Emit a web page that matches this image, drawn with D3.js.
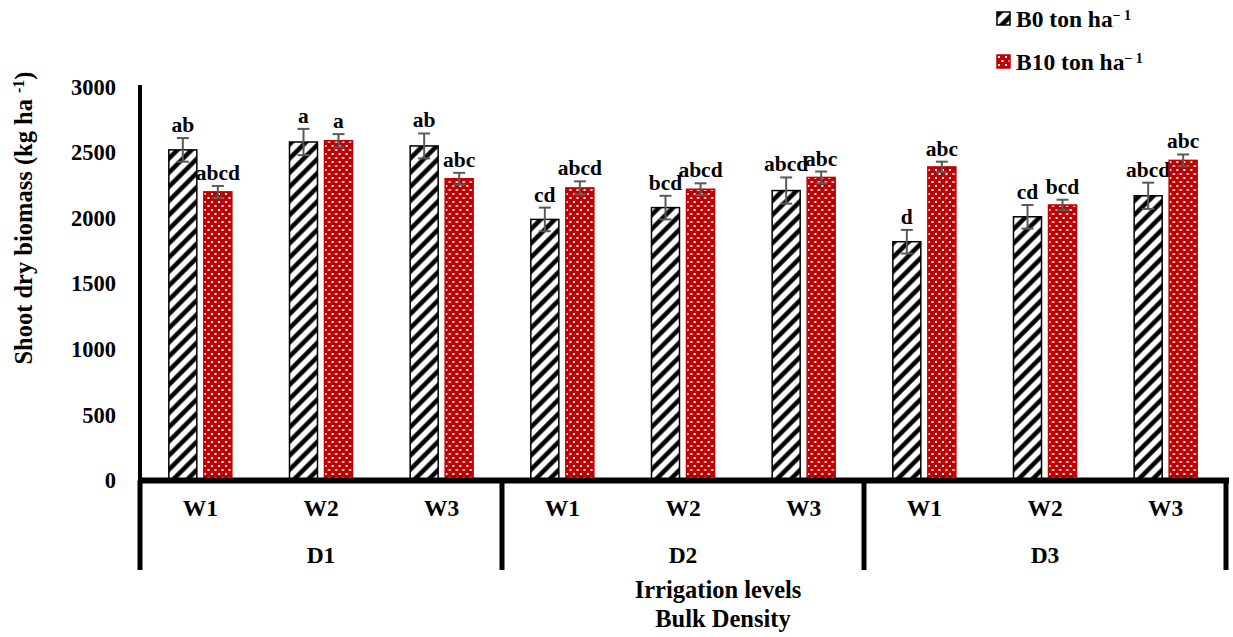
<!DOCTYPE html>
<html>
<head>
<meta charset="utf-8">
<script src="https://cdn.jsdelivr.net/npm/d3@7"></script>
<style>
  body { margin: 0; background: #fff; }
  text { font-family: "Liberation Serif", "Times New Roman", serif; font-weight: bold; fill: #000; }
</style>
</head>
<body>
<script>
// data
const groups = ["D1", "D2", "D3"];
const levels = ["W1", "W2", "W3"];
const series = ["B0", "B10"];
const b0Values = [2520, 2580, 2550, 1990, 2080, 2210, 1820, 2010, 2170];
const b10Values = [2200, 2590, 2300, 2230, 2220, 2310, 2390, 2100, 2440];
const b0Errors = [90, 100, 95, 90, 90, 100, 90, 90, 100];
const b10Errors = [45, 50, 45, 50, 45, 45, 40, 40, 45];
const b0Letters = ["ab", "a", "ab", "cd", "bcd", "abcd", "d", "cd", "abcd"];
const b10Letters = ["abcd", "a", "abc", "abcd", "abcd", "abc", "abc", "bcd", "abc"];
const yTicks = [0, 500, 1000, 1500, 2000, 2500, 3000];

function main(){
    const width = 1233, height = 637;
    const left = 140, right = 1226, top = 86.9, bottom = 480.5;

    const svg = d3.select("body").append("svg")
        .attr("width", width)
        .attr("height", height);

    const defs = svg.append("defs");
    const hatch = defs.append("pattern")
        .attr("id", "hatch")
        .attr("patternUnits", "userSpaceOnUse")
        .attr("width", 10).attr("height", 10)
        .attr("patternTransform", "rotate(45)");
    hatch.append("rect").attr("width", 10).attr("height", 10).attr("fill", "#fff");
    hatch.append("line")
        .attr("x1", 2.5).attr("y1", 0).attr("x2", 2.5).attr("y2", 10)
        .attr("stroke", "#000").attr("stroke-width", 4.5);

    const dots = defs.append("pattern")
        .attr("id", "dots")
        .attr("patternUnits", "userSpaceOnUse")
        .attr("width", 7).attr("height", 8);
    dots.append("rect").attr("width", 7).attr("height", 8).attr("fill", "#c00000");
    dots.append("rect").attr("x", 1).attr("y", 1).attr("width", 2).attr("height", 2).attr("fill", "#fff");
    dots.append("rect").attr("x", 4.5).attr("y", 5).attr("width", 2).attr("height", 2).attr("fill", "#fff");

    // one row per W level within each D group
    const rows = [];
    groups.forEach(function(g, gi){
        levels.forEach(function(l, li){
            const i = gi * levels.length + li;
            rows.push({key: g + l, group: g, level: l,
                B0: {v: b0Values[i], e: b0Errors[i], t: b0Letters[i]},
                B10: {v: b10Values[i], e: b10Errors[i], t: b10Letters[i]}});
        });
    });

    const x0 = d3.scaleBand()
        .domain(rows.map(d => d.key))
        .range([left, right]);
    const cw = x0.bandwidth();
    const x1 = d3.scaleBand()
        .domain(series)
        .range([cw / 2 - 31.5, cw / 2 + 31.5])
        .paddingInner(0.2);
    const yScale = d3.scaleLinear()
        .domain([0, 3000])
        .range([bottom, top]);

    const fills = {B0: "url(#hatch)", B10: "url(#dots)"};
    const strokes = {B0: "#000", B10: "#c00000"};

    // y axis
    const yAxis = svg.append("g")
        .attr("transform", "translate(" + left + ",0)")
        .call(d3.axisLeft(yScale).tickValues(yTicks).tickSize(0).tickPadding(24).tickFormat(d3.format("d")));
    yAxis.select(".domain").remove();
    yAxis.selectAll("text")
        .style("font-family", "Liberation Serif").style("font-weight", "bold")
        .style("font-size", "22.5px").attr("fill", "#000");
    svg.append("line")
        .attr("x1", left).attr("x2", left)
        .attr("y1", top - 2).attr("y2", bottom)
        .attr("stroke", "#000").attr("stroke-width", 4);

    // bars
    const cell = svg.selectAll(".cell")
        .data(rows)
        .enter().append("g")
        .attr("class", "cell")
        .attr("transform", d => "translate(" + x0(d.key) + ",0)");

    const bar = cell.selectAll(".bar")
        .data(d => series.map(s => ({s: s, v: d[s].v, e: d[s].e, t: d[s].t})))
        .enter().append("g")
        .attr("class", "bar");

    bar.append("rect")
        .attr("x", d => x1(d.s))
        .attr("y", d => yScale(d.v))
        .attr("width", x1.bandwidth())
        .attr("height", d => bottom - yScale(d.v))
        .attr("fill", d => fills[d.s])
        .attr("stroke", d => strokes[d.s])
        .attr("stroke-width", 1.5);

    const cx = d => x1(d.s) + x1.bandwidth() / 2;
    bar.append("line")
        .attr("x1", cx).attr("x2", cx)
        .attr("y1", d => yScale(d.v + d.e)).attr("y2", d => yScale(d.v - d.e))
        .attr("stroke", "#595959").attr("stroke-width", 2);
    [1, -1].forEach(function(sign){
        bar.append("line")
            .attr("x1", d => cx(d) - 6).attr("x2", d => cx(d) + 6)
            .attr("y1", d => yScale(d.v + sign * d.e)).attr("y2", d => yScale(d.v + sign * d.e))
            .attr("stroke", "#595959").attr("stroke-width", 2);
    });
    bar.append("text")
        .attr("x", cx)
        .attr("y", d => yScale(d.v + d.e) - 6)
        .attr("text-anchor", "middle")
        .style("font-size", "21.5px")
        .text(d => d.t);

    // x axis: base line, separators, labels
    svg.append("line")
        .attr("x1", left - 2).attr("x2", right + 3)
        .attr("y1", bottom).attr("y2", bottom)
        .attr("stroke", "#000").attr("stroke-width", 6);
    const sepX = [left, x0(rows[3].key), x0(rows[6].key), right];
    svg.selectAll(".sep")
        .data(sepX)
        .enter().append("line")
        .attr("class", "sep")
        .attr("x1", d => d).attr("x2", d => d)
        .attr("y1", bottom).attr("y2", 570)
        .attr("stroke", "#000").attr("stroke-width", 5);

    svg.selectAll(".wlab")
        .data(rows)
        .enter().append("text")
        .attr("class", "wlab")
        .attr("x", d => x0(d.key) + cw / 2)
        .attr("y", 516)
        .attr("text-anchor", "middle")
        .style("font-size", "23.5px")
        .text(d => d.level);

    svg.selectAll(".dlab")
        .data(groups)
        .enter().append("text")
        .attr("class", "dlab")
        .attr("x", (d, i) => (sepX[i] + sepX[i + 1]) / 2)
        .attr("y", 563)
        .attr("text-anchor", "middle")
        .style("font-size", "23.5px")
        .text(d => d);

    svg.append("text")
        .attr("x", 718).attr("y", 598)
        .attr("text-anchor", "middle")
        .style("font-size", "24.5px")
        .text("Irrigation levels");
    svg.append("text")
        .attr("x", 723).attr("y", 627)
        .attr("text-anchor", "middle")
        .style("font-size", "24.5px")
        .text("Bulk Density");

    // y title
    const yt = svg.append("text")
        .attr("transform", "translate(32,218) rotate(-90)")
        .attr("text-anchor", "middle")
        .style("font-size", "24.5px");
    yt.append("tspan").text("Shoot dry biomass (kg ha ");
    yt.append("tspan").attr("dy", -8).style("font-size", "16px").text("-1");
    yt.append("tspan").attr("dy", 8).text(")");

    // legend
    const legend = svg.selectAll(".legend")
        .data(series)
        .enter().append("g")
        .attr("class", "legend")
        .attr("transform", (d, i) => "translate(997," + (12 + i * 43) + ")");
    legend.append("rect")
        .attr("width", 13).attr("height", 13)
        .attr("fill", d => fills[d])
        .attr("stroke", d => strokes[d]).attr("stroke-width", 1.5);
    const lt = legend.append("text")
        .attr("x", 19).attr("y", 15)
        .style("font-size", "23.5px");
    lt.append("tspan").text(d => d + " ton ha");
    lt.append("tspan").attr("dy", -7).style("font-size", "14px").text("\u2212 1");
}
main();
</script>
</body>
</html>
